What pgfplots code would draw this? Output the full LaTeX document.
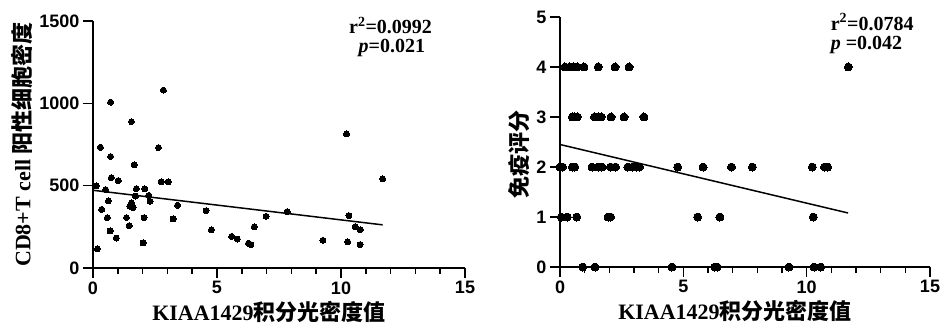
\documentclass[border=0pt]{standalone}
\usepackage{fontspec}
\setmainfont{Liberation Serif}
\newfontfamily\cjk{Noto Sans CJK SC}
\newfontfamily\arialfont{Liberation Sans}
\usepackage{pgfplots}
\pgfplotsset{compat=1.18}
\pgfplotsset{gp/.style={
  scale only axis, axis lines=left, axis line style={-, line width=2pt},
  tick align=outside, major tick length=10pt, minor tick length=6pt,
  every tick/.style={black, line width=1.6pt},
  xmin=0, xmax=15, xtick={0,5,10,15}, minor x tick num=4,
  tick label style={font=\arialfont\bfseries\fontsize{18}{18}\selectfont},
  /pgf/number format/assume math mode=true, /pgf/number format/1000 sep={},
  clip=false,
  label style={font=\bfseries\fontsize{22}{22}\selectfont},
  xlabel style={xshift=-10pt},
}}
\begin{document}
\begin{tikzpicture}
\useasboundingbox (0,0) rectangle (945pt,335pt);
\begin{axis}[gp, at={(93pt,67pt)}, anchor=south west, width=372pt, height=247pt,
  ymin=0, ymax=1500, ytick={0,500,1000,1500},
  xlabel={KIAA1429{\cjk\bfseries 积分光密度值}},
  ylabel={CD8+T cell {\cjk\bfseries 阳性细胞密度}}]
\addplot[only marks, mark=*, mark size=3pt, mark options={fill=black, draw=black, line width=0pt}] coordinates {
(0.13,498)(0.18,117)(0.30,733)(0.35,356)(0.51,476)(0.58,306)(0.62,407)(0.69,225)(0.71,1007)(0.71,677)(0.74,549)(0.94,182)(1.02,531)(1.35,306)(1.46,257)(1.48,375)(1.55,395)(1.55,889)(1.62,367)(1.66,626)(1.71,437)(1.75,482)(2.02,152)(2.06,306)(2.09,480)(2.25,441)(2.30,405)(2.64,731)(2.75,523)(2.84,1080)(3.03,523)(3.23,298)(3.41,381)(4.56,348)(4.77,231)(5.59,192)(5.82,176)(6.27,150)(6.37,142)(6.50,249)(6.98,314)(7.83,342)(9.27,168)(10.22,814)(10.27,158)(10.32,318)(10.57,251)(10.78,233)(10.77,142)(11.68,541)
};
\addplot[black, line width=1.5pt] coordinates {(0,472) (11.68,262)};
\node[inner sep=0pt, font=\bfseries\fontsize{20}{20}\selectfont] at (axis cs:12,1473) {r\textsuperscript{2}=0.0992};
\node[inner sep=0pt, font=\bfseries\fontsize{20}{20}\selectfont] at (axis cs:12.05,1335) {\textit{p}=0.021};
\end{axis}
\begin{axis}[gp, at={(560pt,68pt)}, anchor=south west, width=370pt, height=250pt,
  ymin=0, ymax=5, ytick={0,1,2,3,4,5},
  xlabel={KIAA1429{\cjk\bfseries 积分光密度值}},
  ylabel={{\cjk\bfseries 免疫评分}},
  ylabel style={at={(ticklabel cs:0.45)}}]
\addplot[only marks, mark=*, mark size=4pt, mark options={fill=black, draw=black, line width=0pt}] coordinates {
(0.2,4)(0.4,4)(0.55,4)(0.7,4)(0.97,4)(1.55,4)(2.23,4)(2.8,4)(11.69,4)
(0.5,3)(0.6,3)(0.7,3)(1.4,3)(1.55,3)(1.67,3)(2.07,3)(2.6,3)(3.4,3)
(0,2)(0.1,2)(0.5,2)(0.6,2)(1.3,2)(1.55,2)(1.7,2)(2.05,2)(2.25,2)(2.75,2)(2.95,2)(3.1,2)(3.22,2)(4.77,2)(5.8,2)(6.95,2)(7.8,2)(10.23,2)(10.72,2)(10.85,2)
(0.05,1)(0.3,1)(0.68,1)(1.95,1)(2.05,1)(5.58,1)(6.48,1)(10.27,1)
(0.92,0)(1.42,0)(4.54,0)(6.27,0)(6.37,0)(9.28,0)(10.3,0)(10.57,0)
};
\addplot[black, line width=1.5pt] coordinates {(0,2.45) (11.68,1.08)};
\node[inner sep=0pt, anchor=west, font=\bfseries\fontsize{20}{20}\selectfont] at (axis cs:10.97,4.9) {r\textsuperscript{2}=0.0784};
\node[inner sep=0pt, anchor=west, font=\bfseries\fontsize{20}{20}\selectfont] at (axis cs:10.97,4.45) {\textit{p} =0.042};
\end{axis}
\end{tikzpicture}
\end{document}
